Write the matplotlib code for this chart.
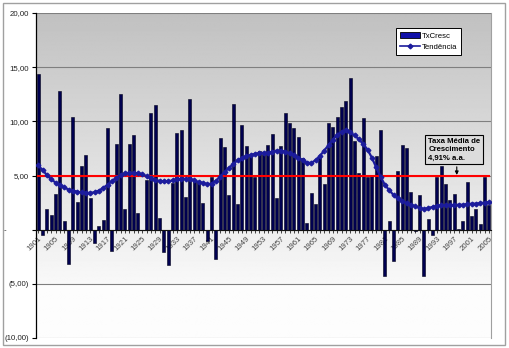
import numpy as np
import matplotlib
matplotlib.use('agg')
import matplotlib.pyplot as plt
from matplotlib.patches import Patch, Rectangle
from matplotlib.lines import Line2D

plt.rcParams['font.family'] = ['Liberation Sans', 'DejaVu Sans']

# Taxa anual de crescimento, 1901-2005
years = np.arange(1901, 2006)
tx_cresc = [
    14.4, -0.5, 1.9, 1.4, 3.3, 12.8, 0.8, -3.2, 10.4, 2.6,      # 1901-1910
    5.9, 6.9, 2.9, -1.2, 0.3, 0.9, 9.4, -2.0, 7.9, 12.5,        # 1911-1920
    1.9, 7.9, 8.7, 1.5, 0.0, 4.6, 10.8, 11.5, 1.1, -2.1,        # 1921-1930
    -3.3, 4.3, 8.9, 9.2, 3.0, 12.1, 4.6, 4.4, 2.5, -1.0,        # 1931-1940
    4.9, -2.7, 8.5, 7.6, 3.2, 11.6, 2.4, 9.7, 7.7, 6.8,         # 1941-1950
    4.9, 7.3, 7.0, 7.8, 8.8, 2.9, 7.7, 10.8, 9.8, 9.4,          # 1951-1960
    8.6, 6.6, 0.6, 3.4, 2.4, 6.7, 4.2, 9.8, 9.5, 10.4,          # 1961-1970
    11.3, 11.9, 14.0, 8.2, 5.2, 10.3, 4.9, 5.0, 6.8, 9.2,       # 1971-1980
    -4.3, 0.8, -2.9, 5.4, 7.8, 7.5, 3.5, -0.1, 3.2, -4.3,       # 1981-1990
    1.0, -0.5, 4.9, 5.9, 4.2, 2.7, 3.3, 0.1, 0.8, 4.4,          # 1991-2000
    1.3, 1.9, 0.5, 4.9, 2.3,                                    # 2001-2005
]
tendencia = [
    5.95, 5.5, 5.05, 4.65, 4.35, 4.1, 3.9, 3.7, 3.6, 3.5,
    3.45, 3.4, 3.4, 3.45, 3.6, 3.85, 4.15, 4.45, 4.8, 5.05,
    5.2, 5.25, 5.25, 5.2, 5.1, 4.95, 4.75, 4.6, 4.5, 4.45,
    4.45, 4.55, 4.65, 4.7, 4.7, 4.65, 4.55, 4.4, 4.3, 4.2,
    4.25, 4.5, 4.9, 5.3, 5.7, 6.05, 6.4, 6.6, 6.8, 6.9,
    7.0, 7.05, 7.1, 7.1, 7.2, 7.3, 7.3, 7.2, 7.05, 6.85,
    6.65, 6.4, 6.2, 6.15, 6.4, 6.8, 7.3, 7.8, 8.3, 8.75,
    9.05, 9.2, 9.0, 8.7, 8.35, 7.9, 7.4, 6.65, 5.75, 4.9,
    4.15, 3.65, 3.2, 2.9, 2.65, 2.45, 2.3, 2.15, 2.0, 1.9,
    2.0, 2.1, 2.2, 2.25, 2.25, 2.25, 2.3, 2.3, 2.3, 2.35,
    2.4, 2.4, 2.45, 2.5, 2.55,
]
taxa_media = 4.91

yticks = [-10, -5, 0, 5, 10, 15, 20]
ytick_labels = ['(10,00)', '(5,00)', '-' + '\u00a0' * 10, '5,00', '10,00', '15,00', '20,00']
xtick_years = list(range(1901, 2006, 4))

fig = plt.figure(figsize=(5.09, 3.48), dpi=100)
ax = fig.add_axes([36/509, 1 - 338/348, 455/509, 325/348])

# eixo x sobre o zero (antes de mexer nos ticks, set_position reseta os ticks)
ax.spines['bottom'].set_position(('data', 0))
ax.spines['bottom'].set_color('#111111')
ax.spines['bottom'].set_linewidth(0.8)
ax.spines['bottom'].set_zorder(6)
ax.spines['left'].set_color('black')
ax.spines['left'].set_linewidth(0.9)
ax.spines['top'].set_visible(False)
ax.spines['right'].set_color('#a0a0a0')

# fundo em degrade cinza -> branco
rows = np.linspace(20, -10, 300)
shade = np.where(rows > -5, 0.755 + (20 - rows) / 25 * (0.975 - 0.755), 0.99)
grad = np.repeat(shade[:, None], 2, axis=1)
ax.imshow(grad, extent=[1900.5, 2005.5, -10, 20], aspect='auto', cmap='gray',
          vmin=0, vmax=1, zorder=0, interpolation='bilinear')

for v in yticks:
    ax.axhline(v, color='#7f7f7f', lw=0.8, zorder=1)

ax.bar(years, tx_cresc, width=0.68, color='#000050', edgecolor='#000018',
       lw=0.4, zorder=3)
ax.plot(years, [taxa_media] * len(years), color='#ff0000', lw=1.5, zorder=4)
ax.plot(years, tendencia, color='#1c1c9c', lw=1.6, marker='D', ms=2.4,
        mec='#1c1c9c', zorder=5)

ax.set_xlim(1900.5, 2005.5)
ax.set_ylim(-10, 20)
ax.set_yticks(yticks)
ax.set_yticklabels(ytick_labels)
ax.set_xticks(years)
ax.set_xticklabels([str(y) if y in xtick_years else '' for y in years])
ax.tick_params(axis='x', length=2.5, width=0.6, pad=1.5, labelsize=5.6,
               labelcolor='#444444', color='#222222')
ax.tick_params(axis='y', length=3, width=0.8, pad=2, labelsize=5.7,
               labelcolor='#222222')
plt.setp(ax.get_xticklabels(), rotation=45, ha='right', rotation_mode='anchor')

handles = [Patch(facecolor='#1010a8', edgecolor='black', lw=0.6),
           Line2D([], [], color='#1c1c9c', lw=1.2, marker='D', ms=2.4)]
leg = ax.legend(handles, ['TxCresc', 'Tendência'], loc='upper left',
                bbox_to_anchor=(0.791, 0.954), borderaxespad=0, fontsize=5.6,
                fancybox=False, framealpha=1, edgecolor='black',
                handlelength=2.6, handleheight=0.9, borderpad=0.5,
                labelspacing=0.45, handletextpad=0.2)
leg.get_frame().set_linewidth(0.7)
leg.set_zorder(7)

ax.text(1991.0, 8.45, 'Taxa Média de\nCrescimento\n4,91% a.a.', fontsize=5.6,
        fontweight='bold', ha='left', va='top', linespacing=1.25, zorder=8,
        bbox=dict(boxstyle='square,pad=0.35', fc='#dcdcdc', ec='black', lw=0.8))
ax.annotate('', xy=(1997.6, 5.05), xytext=(1997.6, 5.8),
            arrowprops=dict(arrowstyle='-|>', color='black', lw=0.8,
                            mutation_scale=5, shrinkA=0, shrinkB=0), zorder=8)

fig.patches.append(Rectangle((3/509, 3/348), 502/509, 342/348, fill=False,
                             ec='#a0a0a0', lw=1.0, transform=fig.transFigure))

fig.savefig('out.png', dpi=100)
